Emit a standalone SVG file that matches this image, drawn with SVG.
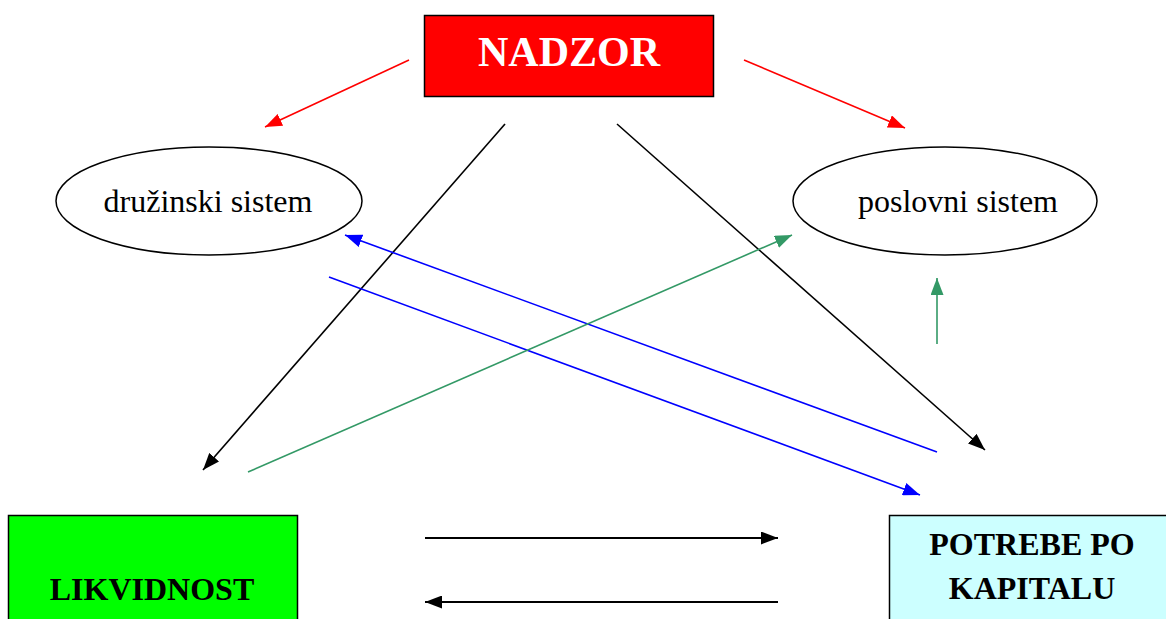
<svg xmlns="http://www.w3.org/2000/svg" width="1166" height="619" viewBox="0 0 1166 619">
<style>
.box{stroke:#000;stroke-width:1.5}
.ell{fill:#fff;stroke:#000;stroke-width:1.5}
.bt{font-family:"Liberation Serif","Times New Roman",serif;font-weight:bold;font-size:32px;text-anchor:middle}
.et{font-family:"Liberation Serif","Times New Roman",serif;font-size:32px;text-anchor:middle}
.c{fill:none;stroke-width:1.6}
.r{stroke:#ff0000;marker-end:url(#mr)}
.k{stroke:#000;marker-end:url(#mk)}
.b{stroke:#0000ff;marker-end:url(#mb)}
.g{stroke:#339966;marker-end:url(#mg)}
.h{stroke:#000;stroke-width:2;marker-end:url(#mk)}
</style>
<defs>
<marker id="mr" markerUnits="userSpaceOnUse" markerWidth="17" markerHeight="13" refX="17" refY="6.5" orient="auto"><path d="M0,0 L17,6.5 L0,13 z" fill="#ff0000"/></marker>
<marker id="mk" markerUnits="userSpaceOnUse" markerWidth="17" markerHeight="13" refX="17" refY="6.5" orient="auto"><path d="M0,0 L17,6.5 L0,13 z" fill="#000"/></marker>
<marker id="mb" markerUnits="userSpaceOnUse" markerWidth="17" markerHeight="13" refX="17" refY="6.5" orient="auto"><path d="M0,0 L17,6.5 L0,13 z" fill="#0000ff"/></marker>
<marker id="mg" markerUnits="userSpaceOnUse" markerWidth="17" markerHeight="13" refX="17" refY="6.5" orient="auto"><path d="M0,0 L17,6.5 L0,13 z" fill="#339966"/></marker>
</defs>
<rect width="1166" height="619" fill="#fff"/>
<g id="nadzor">
<rect class="box" x="424.5" y="15.5" width="289" height="81" fill="#ff0000"/>
<text class="bt" x="569" y="66" fill="#fff" style="font-size:42px">NADZOR</text>
</g>
<g id="druzinski">
<ellipse class="ell" cx="209" cy="201" rx="153" ry="54"/>
<text class="et" x="208" y="212">družinski sistem</text>
</g>
<g id="poslovni">
<ellipse class="ell" cx="945" cy="201" rx="152" ry="54"/>
<text class="et" x="958" y="212">poslovni sistem</text>
</g>
<g id="likvidnost">
<rect class="box" x="8.5" y="515.5" width="289" height="110" fill="#00ff00"/>
<text class="bt" x="152" y="600">LIKVIDNOST</text>
</g>
<g id="potrebe">
<rect class="box" x="889.5" y="515.5" width="290" height="110" fill="#ccffff"/>
<text class="bt" x="1032" y="555">POTREBE PO</text>
<text class="bt" x="1032" y="599">KAPITALU</text>
</g>
<g id="connectors">
<line class="c r" x1="409" y1="60" x2="265" y2="127"/>
<line class="c r" x1="744" y1="60" x2="905" y2="128"/>
<line class="c k" x1="505" y1="124" x2="203" y2="470"/>
<line class="c k" x1="617" y1="124" x2="985" y2="450"/>
<line class="c b" x1="937" y1="452" x2="345" y2="235"/>
<line class="c b" x1="329" y1="277" x2="920" y2="495"/>
<line class="c g" x1="248" y1="472" x2="792" y2="235"/>
<line class="c g" x1="937" y1="344" x2="937" y2="278"/>
<line class="c h" x1="425" y1="538" x2="778" y2="538"/>
<line class="c h" x1="778" y1="602" x2="425" y2="602"/>
</g>
</svg>
